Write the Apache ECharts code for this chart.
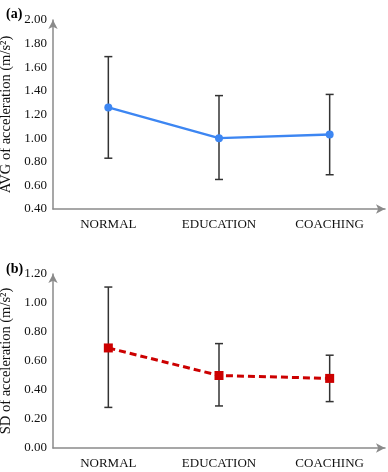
<!DOCTYPE html>
<html>
<head>
<meta charset="utf-8">
<script src="https://cdn.jsdelivr.net/npm/echarts@6/dist/echarts.min.js"></script>
<style>
html, body { margin: 0; padding: 0; background: #fff; }
#main { width: 388px; height: 472px; }
</style>
</head>
<body>
<div id="main"></div>
<script>
// groups and values
var categories = ['NORMAL', 'EDUCATION', 'COACHING'];
var avgMean = [1.26, 1.00, 1.03];
var avgUpper = [1.69, 1.36, 1.37];
var avgLower = [0.83, 0.65, 0.69];
var sdMean = [0.69, 0.50, 0.48];
var sdUpper = [1.11, 0.72, 0.64];
var sdLower = [0.28, 0.29, 0.32];

var font = '"Liberation Serif", "Times New Roman", serif';
var axisGray = '#8a8a8a';

function errData(lo, hi) {
    var out = [];
    for (var i = 0; i < lo.length; i++) {
        out.push([i, lo[i], hi[i]]);
    }
    return out;
}

// vertical whisker with caps
function renderErr(params, api) {
    var lo = api.coord([api.value(0), api.value(1)]);
    var hi = api.coord([api.value(0), api.value(2)]);
    var w = 4;
    var style = {stroke: '#333', lineWidth: 1.5};
    return {
        type: 'group',
        children: [
            {type: 'line', shape: {x1: lo[0], y1: lo[1], x2: hi[0], y2: hi[1]}, style: style},
            {type: 'line', shape: {x1: lo[0] - w, y1: lo[1], x2: lo[0] + w, y2: lo[1]}, style: style},
            {type: 'line', shape: {x1: hi[0] - w, y1: hi[1], x2: hi[0] + w, y2: hi[1]}, style: style}
        ]
    };
}

function xAxisCfg(idx) {
    return {
        type: 'category',
        gridIndex: idx,
        data: categories,
        boundaryGap: true,
        axisLine: {
            lineStyle: {color: axisGray, width: 1.5},
            symbol: ['none', 'arrow'],
            symbolSize: [7, 9]
        },
        axisTick: {show: false},
        axisLabel: {color: '#111', fontFamily: font, fontSize: 13, margin: 9},
        splitLine: {show: false}
    };
}

function yAxisCfg(idx, name, min, max) {
    return {
        type: 'value',
        gridIndex: idx,
        min: min,
        max: max,
        interval: 0.2,
        name: name,
        nameLocation: 'middle',
        nameGap: 35,
        nameTextStyle: {color: '#111', fontFamily: font, fontSize: 14.5},
        axisLine: {
            show: true,
            lineStyle: {color: axisGray, width: 1.5},
            symbol: ['none', 'arrow'],
            symbolSize: [7, 9]
        },
        axisTick: {show: false},
        axisLabel: {
            color: '#111', fontFamily: font, fontSize: 13, margin: 6,
            formatter: function (v) { return v.toFixed(2); }
        },
        splitLine: {show: false}
    };
}

var myChart = echarts.init(document.getElementById('main'));
var option = {
    backgroundColor: '#fff',
    animation: false,
    title: [
        {text: '(a)', left: 1, top: 2, textStyle: {fontFamily: font, fontSize: 14, fontWeight: 'bold', color: '#000'}},
        {text: '(b)', left: 1, top: 257, textStyle: {fontFamily: font, fontSize: 14, fontWeight: 'bold', color: '#000'}}
    ],
    grid: [
        {left: 53, top: 20, width: 332, height: 189, containLabel: false, outerBoundsMode: 'none'},
        {left: 53, top: 274, width: 332, height: 174, containLabel: false, outerBoundsMode: 'none'}
    ],
    xAxis: [xAxisCfg(0), xAxisCfg(1)],
    yAxis: [
        yAxisCfg(0, 'AVG of acceleration (m/s\u00b2)', 0.4, 2.0),
        yAxisCfg(1, 'SD of acceleration (m/s\u00b2)', 0, 1.2)
    ],
    series: [
        {
            type: 'custom',
            xAxisIndex: 0, yAxisIndex: 0,
            renderItem: renderErr,
            data: errData(avgLower, avgUpper),
            z: 2
        },
        {
            type: 'line',
            xAxisIndex: 0, yAxisIndex: 0,
            data: avgMean,
            symbol: 'circle',
            symbolSize: 8,
            lineStyle: {color: '#3d86f2', width: 2.5},
            itemStyle: {color: '#3d86f2'},
            z: 3
        },
        {
            type: 'custom',
            xAxisIndex: 1, yAxisIndex: 1,
            renderItem: renderErr,
            data: errData(sdLower, sdUpper),
            z: 2
        },
        {
            type: 'line',
            xAxisIndex: 1, yAxisIndex: 1,
            data: sdMean,
            symbol: 'rect',
            symbolSize: 9,
            lineStyle: {color: '#cc0000', width: 3, type: [7, 4]},
            itemStyle: {color: '#cc0000'},
            z: 3
        }
    ]
};
myChart.setOption(option);
</script>
</body>
</html>
